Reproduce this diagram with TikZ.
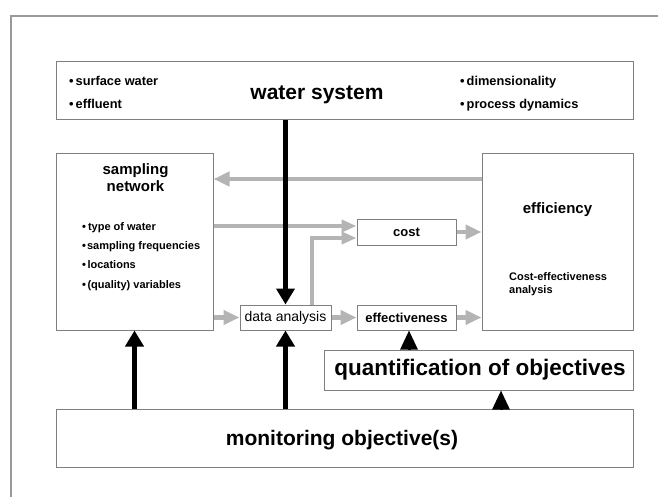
\documentclass[tikz,border=0pt]{standalone}
\usepackage{fontspec}
\setmainfont{Liberation Sans}
\usetikzlibrary{arrows.meta,calc}
\definecolor{boxgray}{HTML}{7F7F7F}
\definecolor{arrgray}{HTML}{B4B4B4}
\definecolor{framegray}{HTML}{999999}
\begin{document}
\begin{tikzpicture}[x=1pt,y=-1pt,
  box/.style={draw=boxgray,line width=1pt,fill=white,inner sep=0pt},
  txt/.style={inner sep=0pt},
  bigtxt/.style={txt,font=\fontsize{21}{25}\selectfont\bfseries},
  listA/.style={txt,anchor=base west,font=\fontsize{12.8}{15}\selectfont\bfseries},
  listB/.style={txt,anchor=base west,font=\fontsize{11}{13}\selectfont\bfseries},
  blackarrow/.style={line width=5pt,black,-{Triangle[width=18pt,length=16pt]}},
  blackhead/.style={line width=3pt,black,-{Triangle[width=17pt,length=19pt]}},
  greyarrow/.style={line width=4.5pt,arrgray,-{Triangle[width=14pt,length=16pt]}},
  greysmall/.style={line width=4.5pt,arrgray,-{Triangle[width=12pt,length=15pt]}}]
\useasboundingbox (0,0) rectangle (658,497);
\fill[white] (0,0) rectangle (658,497);
% outer frame
\draw[framegray,line width=1.6pt] (11,497) -- (11,16) -- (658,16);

% boxes
\node[box,minimum width=577pt,minimum height=58pt] (ws) at (344.5,91) {};
\node[box,minimum width=157pt,minimum height=176pt] (sn) at (134.5,242) {};
\node[box,minimum width=151pt,minimum height=176pt] (ef) at (557.5,242) {};
\node[box,minimum width=99pt,minimum height=26pt] (cost) at (406.5,232) {};
\node[box,minimum width=91pt,minimum height=25pt] (da) at (285.5,317.5) {};
\node[box,minimum width=99pt,minimum height=25pt] (eff) at (406.5,317.5) {};
\node[box,minimum width=309pt,minimum height=40pt] (qo) at (478.5,370) {};
\node[box,minimum width=577pt,minimum height=58pt] (mo) at (344.5,438) {};

% helper coordinates
\coordinate (g1) at (0,179);
\coordinate (g2) at (0,226);
\coordinate (g3) at (312,0);
\coordinate (g4) at (0,238);
\coordinate (q1) at (501,0);
\coordinate (q2) at (409,0);

% grey connectors
\draw[greyarrow] (ef.west |- g1) -- (sn.east |- g1);
\draw[greysmall] (sn.east |- g2) -- (cost.west |- g2);
\draw[greysmall] (da.north -| g3) |- (cost.west |- g4);
\draw[greyarrow] (cost.east) -- (ef.west |- cost.east);
\draw[greyarrow] (sn.east |- da.west) -- (da.west);
\draw[greyarrow] (da.east) -- (eff.west);
\draw[greyarrow] (eff.east) -- (ef.west |- eff.east);

% black connectors
\draw[blackarrow] (ws.south -| da.north) -- (da.north);
\draw[blackarrow] (mo.north -| sn.south) -- (sn.south);
\draw[blackarrow] (mo.north -| da.south) -- (da.south);
\draw[blackhead] (mo.north -| q1) -- (qo.south -| q1);
\draw[blackhead] (qo.north -| q2) -- (eff.south -| q2);

% texts
\node[bigtxt,anchor=base] (wst) at (317,100) {water system};
\node[listA] (l1) at (69,86) {•\hspace{2pt}surface water};
\node[listA] (l2) at (69,109) {•\hspace{2pt}effluent};
\node[listA] (l3) at (460,86) {•\hspace{2pt}dimensionality};
\node[listA] (l4) at (460,109) {•\hspace{2pt}process dynamics};

\node[txt,anchor=base,font=\fontsize{15}{18}\selectfont\bfseries] (snt1) at (135.5,175) {sampling};
\node[txt,anchor=base,font=\fontsize{15}{18}\selectfont\bfseries] (snt2) at (135.5,191) {network};
\node[listB] (s1) at (82,230) {•\hspace{2pt}type of water};
\node[listB] (s2) at (82,249) {•\hspace{1pt}sampling frequencies};
\node[listB] (s3) at (82,268) {•\hspace{1.5pt}locations};
\node[listB] (s4) at (82,288) {•\hspace{1.5pt}(quality) variables};

\node[txt,anchor=base,font=\fontsize{15}{18}\selectfont\bfseries] (eft) at (557.5,213) {efficiency};
\node[listB] (ce1) at (509,280) {Cost-effectiveness};
\node[listB] (ce2) at (509,293) {analysis};

\node[txt,font=\fontsize{13}{15}\selectfont\bfseries] at (cost) {cost};
\node[txt,font=\fontsize{14}{16}\selectfont] at (da) {data analysis};
\node[txt,font=\fontsize{13}{15}\selectfont\bfseries] at (eff) {effectiveness};

\node[txt,anchor=base,font=\fontsize{22.5}{26}\selectfont\bfseries] (qot) at (480,375) {quantification of objectives};
\node[bigtxt,anchor=base] (mot) at (342,445) {monitoring objective(s)};
\end{tikzpicture}
\end{document}
